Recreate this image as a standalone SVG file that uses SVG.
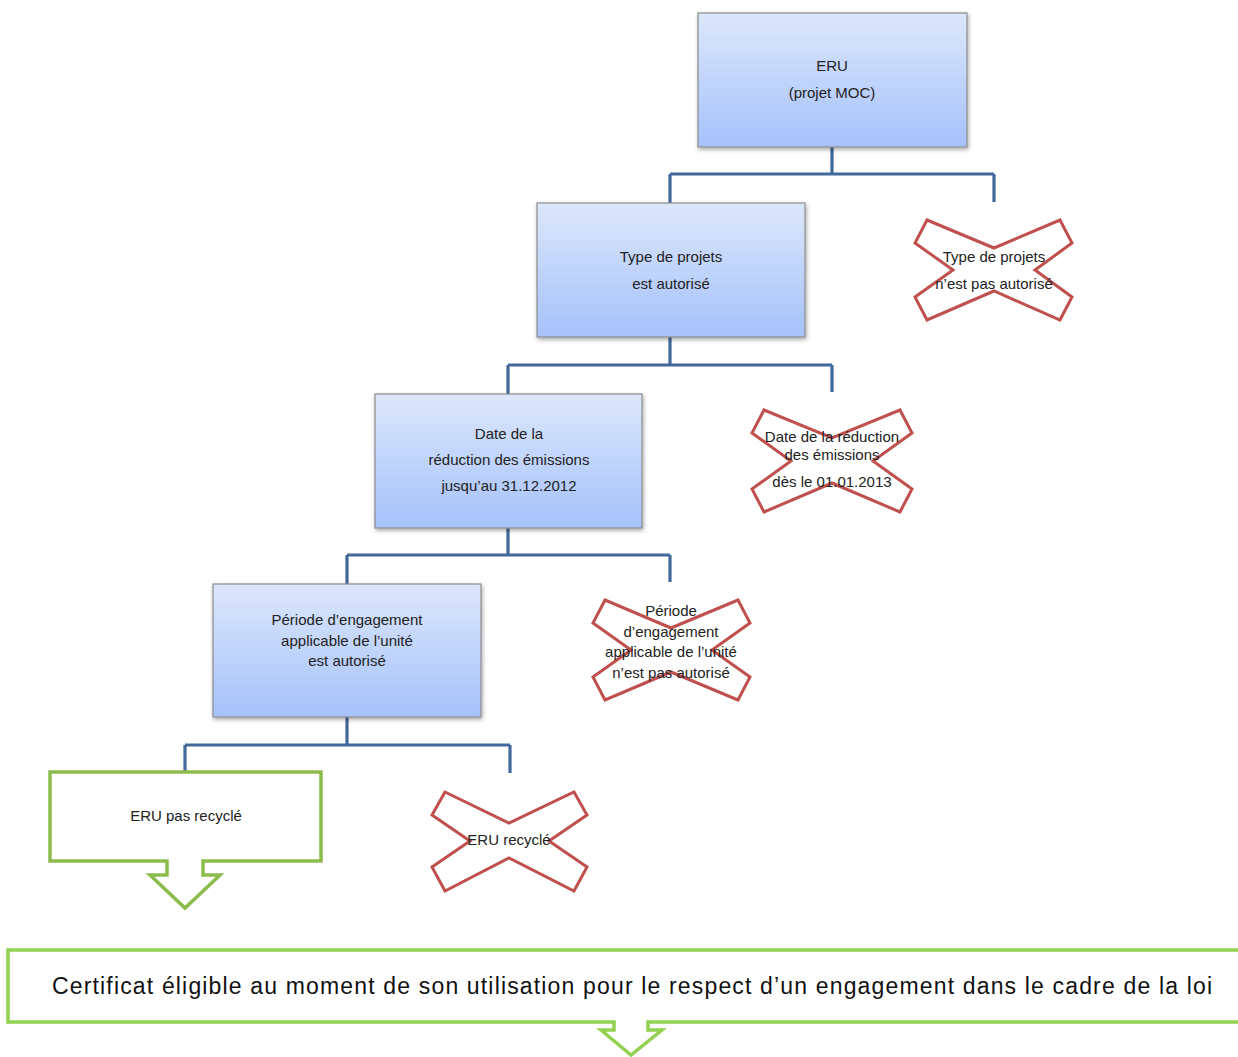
<svg xmlns="http://www.w3.org/2000/svg" width="1238" height="1057" viewBox="0 0 1238 1057">
<defs>
<linearGradient id="bg" x1="0" y1="0" x2="0" y2="1">
<stop offset="0" stop-color="#dce7fb"/>
<stop offset="1" stop-color="#a5c2fb"/>
</linearGradient>
<filter id="sh" x="-5%" y="-5%" width="115%" height="120%">
<feGaussianBlur in="SourceAlpha" stdDeviation="2"/>
<feOffset dx="1" dy="2" result="b"/>
<feComponentTransfer><feFuncA type="linear" slope="0.35"/></feComponentTransfer>
<feMerge><feMergeNode/><feMergeNode in="SourceGraphic"/></feMerge>
</filter>
</defs>
<style>
.box{fill:url(#bg);stroke:#8c8c8c;stroke-width:1.2;filter:url(#sh)}
.x{fill:#fff;stroke:#c0504d;stroke-width:3;stroke-linejoin:miter}
.g{fill:#fff;stroke:#8cbc4c;stroke-width:3.5}
.gb{fill:#fff;stroke:#92d050;stroke-width:3.5}
.c{fill:none;stroke:#43689c;stroke-width:3.2}
text{font-family:"Liberation Sans",Arial,sans-serif;font-size:15px;fill:#222;text-anchor:middle}
.big{font-size:23px;fill:#111;text-anchor:start}
</style>
<rect width="1238" height="1057" fill="#fff"/>
<g id="connectors">
<path class="c" d="M832,147 V174 M670,174 H994 M670,174 V203 M994,174 V202"/>
<path class="c" d="M670,337 V365 M508,365 H832 M508,365 V394 M832,365 V392"/>
<path class="c" d="M508,528 V555 M347,555 H670 M347,555 V584 M670,555 V582"/>
<path class="c" d="M347,717 V745 M185,745 H510 M185,745 V772 M510,745 V773"/>
</g>
<g id="n1">
<rect class="box" x="698" y="13" width="269" height="134"/>
<text x="832" y="71">ERU</text>
<text x="832" y="98">(projet MOC)</text>
</g>
<g id="n2">
<rect class="box" x="537" y="203" width="268" height="134"/>
<text x="671" y="262">Type de projets</text>
<text x="671" y="289">est autorisé</text>
</g>
<g id="x1">
<polygon class="x" points="927,220 994,248 1060,220 1072,243 1035,270 1072,297 1060,320 994,291 927,320 915,297 953,270 915,243"/>
<text x="994" y="262">Type de projets</text>
<text x="994" y="289">n’est pas autorisé</text>
</g>
<g id="n3">
<rect class="box" x="375" y="394" width="267" height="134"/>
<text x="509" y="439">Date de la</text>
<text x="509" y="465">réduction des émissions</text>
<text x="509" y="491">jusqu’au 31.12.2012</text>
</g>
<g id="x2">
<polygon class="x" points="764,410 832,438 900,410 912,433 873,461 912,489 900,512 832,483 764,512 752,489 791,461 752,433"/>
<text x="832" y="442">Date de la réduction</text>
<text x="832" y="460">des émissions</text>
<text x="832" y="487">dès le 01.01.2013</text>
</g>
<g id="n4">
<rect class="box" x="213" y="584" width="268" height="133"/>
<text x="347" y="625">Période d’engagement</text>
<text x="347" y="646">applicable de l’unité</text>
<text x="347" y="666">est autorisé</text>
</g>
<g id="x3">
<polygon class="x" points="605,600 671,628 738,600 750,623 712,650 750,677 738,700 671,672 605,700 593,677 631,650 593,623"/>
<text x="671" y="616">Période</text>
<text x="671" y="637">d’engagement</text>
<text x="671" y="657">applicable de l’unité</text>
<text x="671" y="678">n’est pas autorisé</text>
</g>
<g id="n5">
<path class="g" d="M50,772 H321 V861 H203 V875 H220 L185,908 L150,875 H167 V861 H50 Z"/>
<text x="186" y="821">ERU pas recyclé</text>
</g>
<g id="x4">
<polygon class="x" points="445,792 509,823 574,792 587,815 549,841 587,867 574,891 509,858 445,891 432,867 470,841 432,815"/>
<text x="509" y="845">ERU recyclé</text>
</g>
<g id="n6">
<path class="gb" d="M8,950 H1245 V1022 H648 V1030 H662 L631,1055 L601,1030 H614 V1022 H8 Z"/>
<text class="big" x="52" y="994" textLength="1160" lengthAdjust="spacing">Certificat éligible au moment de son utilisation pour le respect d’un engagement dans le cadre de la loi</text>
</g>
</svg>
